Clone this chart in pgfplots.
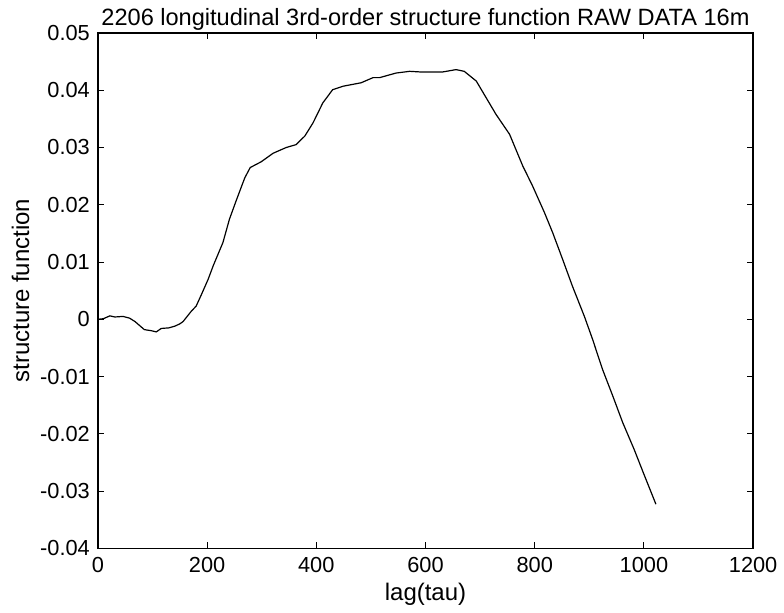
\documentclass[border=0pt]{standalone}
\usepackage{fontspec}
\setmainfont{Liberation Sans}
\usepackage{pgfplots}
\pgfplotsset{compat=1.18}

\begin{document}
\begin{tikzpicture}
\begin{axis}[
    width=328pt, height=258pt,
    scale only axis,
    xmin=0, xmax=1200,
    ymin=-0.04, ymax=0.05,
    scaled y ticks=false,
    xtick={0,200,...,1200},
    xticklabels={0,200,400,600,800,1000,1200},
    ytick={-0.04,-0.03,-0.02,-0.01,0,0.01,0.02,0.03,0.04,0.05},
    yticklabels={-0.04,-0.03,-0.02,-0.01,0,0.01,0.02,0.03,0.04,0.05},
    tick align=inside,
    major tick length=3pt,
    axis line style={line width=0.7pt},
    every tick/.style={line width=0.5pt, black},
    tick label style={font=\fontsize{10.9}{12}\selectfont},
    label style={font=\fontsize{12}{13}\selectfont},
    title style={font=\fontsize{11.8}{13}\selectfont, yshift=-8.3pt},
    title={2206 longitudinal 3rd-order structure function RAW DATA 16m},
    xlabel={lag(tau)},
    ylabel={structure function},
    xlabel style={yshift=1.5pt},
    ylabel style={yshift=-1.5pt},
    xticklabel style={yshift=-1pt},
    yticklabel style={xshift=-0.5pt},
]
\addplot[black, line width=0.6pt] coordinates {
(0,0.0000) (10,0.0001) (22,0.0006) (31,0.0004) (46,0.0005) (58,0.0002)
(68,-0.0004) (85,-0.0018) (98,-0.0020) (107,-0.0022) (116,-0.0016)
(130,-0.0015) (141,-0.0012) (150,-0.0008) (156,-0.0004) (171,0.0014)
(180,0.0023) (190,0.0044) (202,0.0070) (211,0.0093) (229,0.0134)
(241,0.0175) (254,0.0209) (269,0.0247) (279,0.0265) (299,0.0275)
(321,0.0290) (345,0.0300) (363,0.0305) (379,0.0320) (394,0.0343)
(412,0.0378) (430,0.0401) (449,0.0407) (482,0.0413) (504,0.0422)
(516,0.0422) (546,0.0430) (571,0.0433) (589,0.0432) (632,0.0432)
(656,0.0436) (671,0.0433) (693,0.0416) (711,0.0387) (729,0.0358)
(754,0.0323) (778,0.0268) (796,0.0233) (818,0.0186) (833,0.0151)
(851,0.0105) (869,0.0058) (891,0.0005) (906,-0.0035) (924,-0.0087)
(943,-0.0134) (961,-0.0180) (982,-0.0227) (1001,-0.0273) (1022,-0.0323)
};
\end{axis}
\path ([shift={(-49pt,-32pt)}]current axis.south west) rectangle ([shift={(15pt,16.5pt)}]current axis.north east);
\end{tikzpicture}
\end{document}
